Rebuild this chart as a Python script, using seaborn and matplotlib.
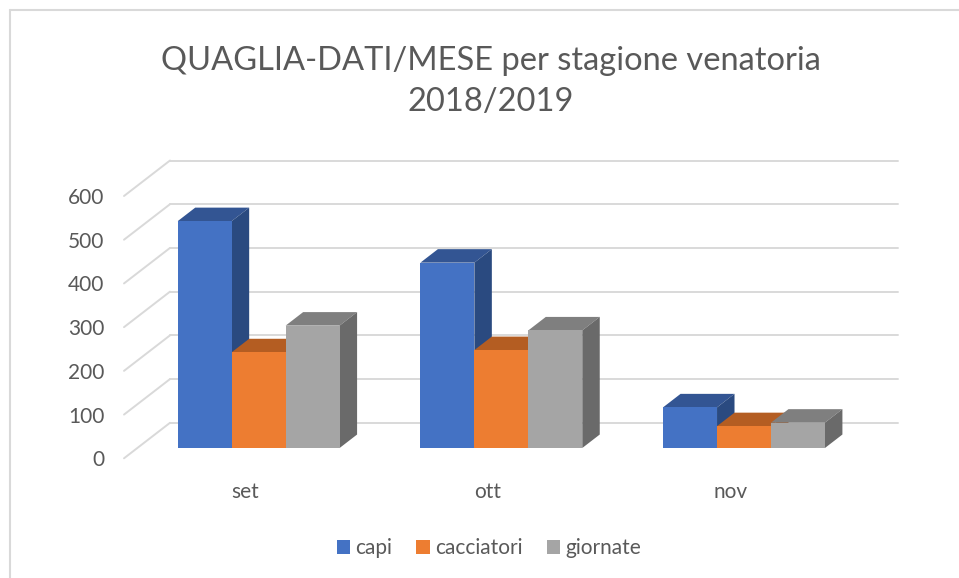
import numpy as np
import pandas as pd
import matplotlib
matplotlib.use("Agg")
import matplotlib.pyplot as plt
import matplotlib.transforms as mtransforms
from matplotlib.patches import Polygon, Patch
from matplotlib.lines import Line2D
import seaborn as sns

# ---------------- data ----------------
mesi = ["set", "ott", "nov"]
serie = ["capi", "cacciatori", "giornate"]
capi = [519, 424, 93]
cacciatori = [219, 224, 50]
giornate = [280, 269, 58]
yticks = [0, 100, 200, 300, 400, 500, 600]
titolo = "QUAGLIA-DATI/MESE per stagione venatoria\n2018/2019"

front_colors = ["#4472C4", "#ED7D31", "#A5A5A5"]
top_colors = ["#335593", "#B45D22", "#7F7F7F"]
side_colors = ["#2A4A80", "#A9561D", "#6A6A6A"]
grid_color = "#D9D9D9"
text_color = "#595959"

df = pd.DataFrame({
    "mese": mesi * 3,
    "serie": [s for s in serie for _ in mesi],
    "valore": capi + cacciatori + giornate,
})

sns.set_style("white")
plt.rcParams["font.family"] = ["Lato", "DejaVu Sans"]

W, H = 959, 578
fig = plt.figure(figsize=(W / 100, H / 100), dpi=100)
# front plane of the floor
ax = fig.add_axes([124 / W, (H - 458.3) / H, 728 / W, 262.3 / H])
ax.set_facecolor("none")

sns.barplot(data=df, x="mese", y="valore", hue="serie", hue_order=serie,
            order=mesi, palette=front_colors, saturation=1, width=0.667,
            linewidth=0, legend=False, ax=ax)

ax.set_xlim(-0.5, 2.5)
ax.set_ylim(0, 600)
ax.set_yticks(yticks)
ax.set_xlabel("")
ax.set_ylabel("")
for s in ax.spines.values():
    s.set_visible(False)
ax.tick_params(axis="both", length=0, colors=text_color, labelsize=15)
ax.tick_params(axis="y", pad=14)
ax.tick_params(axis="x", pad=17)

# depth vector (pixels) of the 3D box
D = np.array([46.0, 35.5])
f1, f2 = 0.29, 0.67


def shift(frac):
    return ax.transData + mtransforms.Affine2D().translate(D[0] * frac, D[1] * frac)


ident = mtransforms.IdentityTransform()

# back wall gridlines and side wall diagonals
for v in yticks:
    ax.plot([-0.5, 2.5], [v, v], transform=shift(1.0), color=grid_color,
            lw=1.4, clip_on=False, zorder=0.5)
    p0 = ax.transData.transform((-0.5, v))
    p1 = p0 + D
    ax.add_line(Line2D([p0[0], p1[0]], [p0[1], p1[1]], transform=ident,
                       color=grid_color, lw=1.4, clip_on=False, zorder=0.5))

# 3D bars
rects = []
for hi, cont in enumerate(ax.containers):
    for r in cont:
        rects.append((r.get_x(), hi, r))
rects.sort(key=lambda t: t[0])
T1, T2 = shift(f1), shift(f2)
for k, (_, hi, r) in enumerate(rects):
    x0, w, h = r.get_x(), r.get_width(), r.get_height()
    r.set_transform(T1)
    r.set_clip_on(False)
    r.set_zorder(3 + 2 * k + 1)
    ftl = T1.transform((x0, h)); ftr = T1.transform((x0 + w, h))
    btl = T2.transform((x0, h)); btr = T2.transform((x0 + w, h))
    fbr = T1.transform((x0 + w, 0)); bbr = T2.transform((x0 + w, 0))
    ax.add_patch(Polygon([ftl, ftr, btr, btl], closed=True, transform=ident,
                         facecolor=top_colors[hi], lw=0, clip_on=False,
                         zorder=3 + 2 * k))
    ax.add_patch(Polygon([ftr, btr, bbr, fbr], closed=True, transform=ident,
                         facecolor=side_colors[hi], lw=0, clip_on=False,
                         zorder=3 + 2 * k))

ax.set_xlim(-0.5, 2.5)
ax.set_ylim(0, 600)

# title
fig.text(491 / W, 1 - 46 / H, titolo, ha="center", va="top", fontsize=23.5,
         color=text_color, linespacing=1.45)

# legend
handles = [Patch(facecolor=c, edgecolor="none") for c in front_colors]
fig.legend(handles, serie, loc="center", bbox_to_anchor=(489 / W, 1 - 548 / H),
           ncol=3, frameon=False, fontsize=15, labelcolor=text_color,
           handlelength=0.65, handleheight=0.65, handletextpad=0.25,
           columnspacing=1.15)

# chart border (top and left)
fig.add_artist(Line2D([10 / W, 10 / W], [0, 1 - 10 / H], transform=fig.transFigure,
                      color=grid_color, lw=1.5))
fig.add_artist(Line2D([10 / W, 1], [1 - 10 / H, 1 - 10 / H], transform=fig.transFigure,
                      color=grid_color, lw=1.5))

fig.savefig("out.png", dpi=100)
